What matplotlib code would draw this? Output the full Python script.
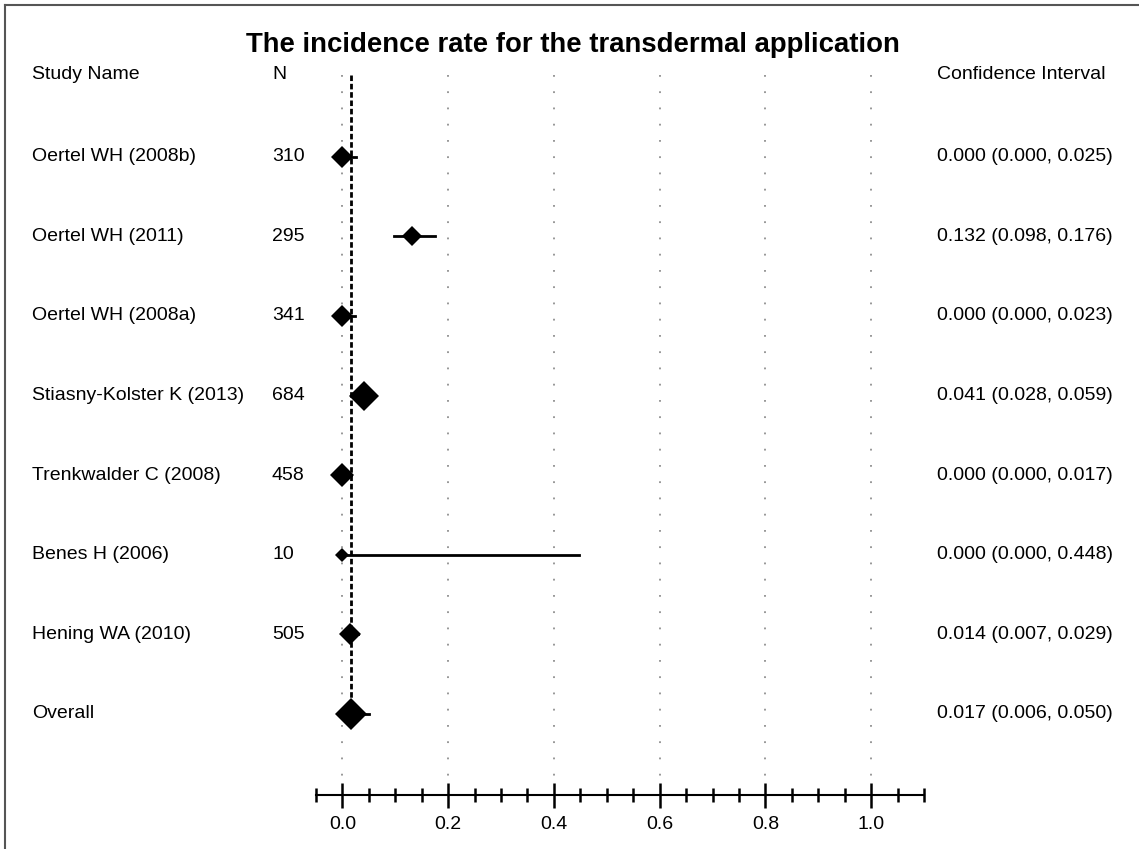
import numpy as np
import matplotlib.pyplot as plt
import matplotlib.transforms as mtransforms

plt.rcParams['font.family'] = ['Liberation Sans', 'DejaVu Sans']

# study data
studies = ['Oertel WH (2008b)', 'Oertel WH (2011)', 'Oertel WH (2008a)',
           'Stiasny-Kolster K (2013)', 'Trenkwalder C (2008)', 'Benes H (2006)',
           'Hening WA (2010)', 'Overall']
n_total = ['310', '295', '341', '684', '458', '10', '505', '']
rate = [0.000, 0.132, 0.000, 0.041, 0.000, 0.000, 0.014, 0.017]
lower = [0.000, 0.098, 0.000, 0.028, 0.000, 0.000, 0.007, 0.006]
upper = [0.025, 0.176, 0.023, 0.059, 0.017, 0.448, 0.029, 0.050]
# relative marker sizes (study weights)
weight = [11.5, 9.8, 11.2, 15.0, 12.0, 7.0, 11.2, 16.5]

xticks = [0.0, 0.2, 0.4, 0.6, 0.8, 1.0]

W, H = 1139, 849
fig = plt.figure(figsize=(W / 100, H / 100), dpi=100)
ax = fig.add_axes([316 / W, 1 - 795 / H, (924 - 316) / W, (795 - 55) / H])

rows = np.arange(len(studies))
ax.set_xlim(-0.05, 1.1)
ax.set_ylim(8.02, -1.28)

# grid lines and overall line
ax.vlines(xticks, -1.03, 7.85, colors='#909090', linewidth=1.3,
          linestyles=(0, (1, 8)))
ax.vlines(rate[-1], -1.03, 7.0, colors='black', linewidth=2,
          linestyles=(0, (2, 1)))

# confidence intervals and point estimates
for i in rows:
    ax.plot([lower[i], upper[i]], [i, i], color='black', lw=2, zorder=3)
    ax.plot(rate[i], i, marker='D', color='black', markersize=weight[i],
            markeredgewidth=0, zorder=4)

# x axis only
for s in ['top', 'left', 'right']:
    ax.spines[s].set_visible(False)
ax.spines['bottom'].set_linewidth(1.5)
ax.set_yticks([])
ax.set_xticks(xticks)
ax.set_xticklabels(['%.1f' % t for t in xticks], fontsize=14)
ax.set_xticks(np.arange(-0.05, 1.101, 0.05), minor=True)
ax.tick_params(axis='x', which='major', direction='inout', length=18,
               width=1.8, pad=6)
ax.tick_params(axis='x', which='minor', direction='inout', length=10,
               width=1.8)

# text columns
fs = 14
tr = mtransforms.blended_transform_factory(fig.transFigure, ax.transData)
head_y = -1.03
fig.text(32 / W, head_y, 'Study Name', transform=tr, fontsize=fs, va='center')
fig.text(272 / W, head_y, 'N', transform=tr, fontsize=fs, va='center')
fig.text(937 / W, head_y, 'Confidence Interval', transform=tr, fontsize=fs,
         va='center')
for i in rows:
    fig.text(32 / W, i, studies[i], transform=tr, fontsize=fs, va='center')
    fig.text(272 / W, i, n_total[i], transform=tr, fontsize=fs, va='center')
    fig.text(937 / W, i, '%.3f (%.3f, %.3f)' % (rate[i], lower[i], upper[i]),
             transform=tr, fontsize=fs, va='center')

fig.text(573 / W, 1 - 45 / H, 'The incidence rate for the transdermal application',
         ha='center', va='center', fontsize=19.8, fontweight='bold')

# frame on top and left
fig.add_artist(plt.Line2D([5 / W, 1], [1 - 5 / H, 1 - 5 / H], color='#555555', lw=1.5))
fig.add_artist(plt.Line2D([5 / W, 5 / W], [0, 1 - 5 / H], color='#555555', lw=1.5))

fig.savefig('out.png', dpi=100)
